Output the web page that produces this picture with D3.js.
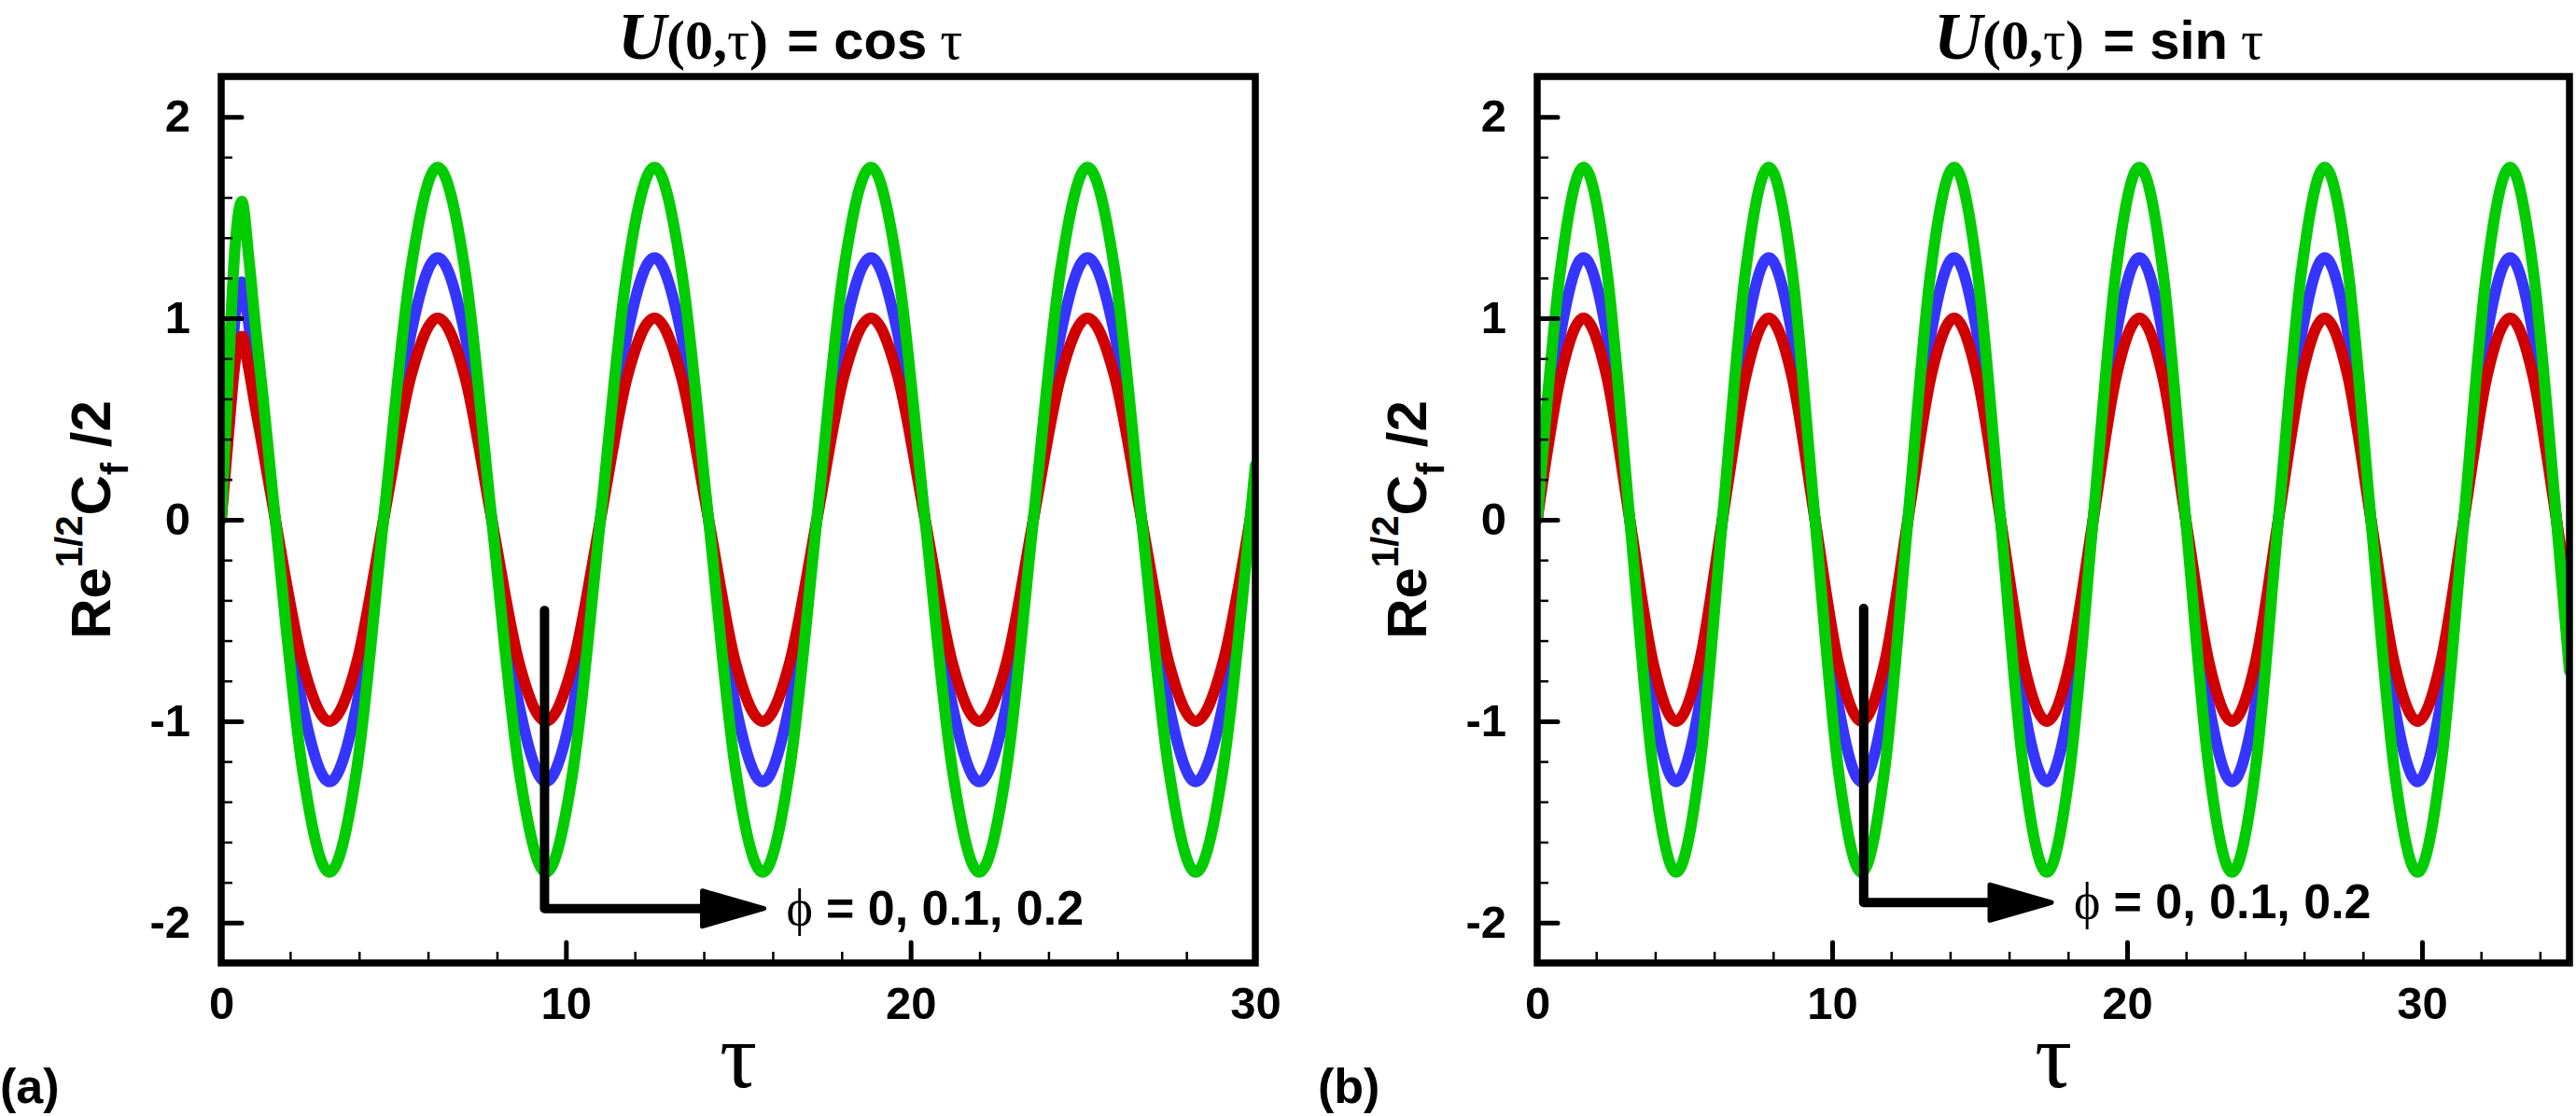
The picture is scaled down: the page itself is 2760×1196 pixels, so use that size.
<!DOCTYPE html>
<html><head><meta charset="utf-8">
<script src="https://cdn.jsdelivr.net/npm/d3@7"></script>
<style>html,body{margin:0;padding:0;background:#fff}svg{display:block}</style>
</head><body>
<script>
// ---------------- data ----------------
const tauA = [0,0.2,0.4,0.6,0.8,1.0,1.2,1.57,2.36,3.14,3.93,4.71,5.50,6.28,7.07,7.85,8.64,9.42,10.21,11.00,11.78,12.57,13.35,14.14,14.92,15.71,16.49,17.28,18.06,18.85,19.63,20.42,21.21,21.99,22.78,23.56,24.35,25.13,25.92,26.70,27.49,28.27,29.06,29.85,30];
const redA   = [0,0.40,0.78,0.91,0.75,0.55,0.36,0,-0.71,-1,-0.71,0,0.71,1,0.71,0,-0.71,-1,-0.71,0,0.71,1,0.71,0,-0.71,-1,-0.71,0,0.71,1,0.71,0,-0.71,-1,-0.71,0,0.71,1,0.71,0,-0.71,-1,-0.71,0,0.15];
const blueA  = [0,0.52,1.00,1.18,0.97,0.71,0.47,0,-0.92,-1.3,-0.92,0,0.92,1.3,0.92,0,-0.92,-1.3,-0.92,0,0.92,1.3,0.92,0,-0.92,-1.3,-0.92,0,0.92,1.3,0.92,0,-0.92,-1.3,-0.92,0,0.92,1.3,0.92,0,-0.92,-1.3,-0.92,0,0.20];
const greenA = [0,0.70,1.35,1.58,1.30,0.95,0.63,0,-1.24,-1.75,-1.24,0,1.24,1.75,1.24,0,-1.24,-1.75,-1.24,0,1.24,1.75,1.24,0,-1.24,-1.75,-1.24,0,1.24,1.75,1.24,0,-1.24,-1.75,-1.24,0,1.24,1.75,1.24,0,-1.24,-1.75,-1.24,0,0.27];

const tauB = [0,0.79,1.57,2.36,3.14,3.93,4.71,5.50,6.28,7.07,7.85,8.64,9.42,10.21,11.00,11.78,12.57,13.35,14.14,14.92,15.71,16.49,17.28,18.06,18.85,19.63,20.42,21.21,21.99,22.78,23.56,24.35,25.13,25.92,26.70,27.49,28.27,29.06,29.85,30.63,31.42,32.20,32.99,33.77,34.56,35];
const redB   = [0,0.71,1,0.71,0,-0.71,-1,-0.71,0,0.71,1,0.71,0,-0.71,-1,-0.71,0,0.71,1,0.71,0,-0.71,-1,-0.71,0,0.71,1,0.71,0,-0.71,-1,-0.71,0,0.71,1,0.71,0,-0.71,-1,-0.71,0,0.71,1,0.71,0,-0.43];
const blueB  = [0,0.92,1.3,0.92,0,-0.92,-1.3,-0.92,0,0.92,1.3,0.92,0,-0.92,-1.3,-0.92,0,0.92,1.3,0.92,0,-0.92,-1.3,-0.92,0,0.92,1.3,0.92,0,-0.92,-1.3,-0.92,0,0.92,1.3,0.92,0,-0.92,-1.3,-0.92,0,0.92,1.3,0.92,0,-0.56];
const greenB = [0,1.24,1.75,1.24,0,-1.24,-1.75,-1.24,0,1.24,1.75,1.24,0,-1.24,-1.75,-1.24,0,1.24,1.75,1.24,0,-1.24,-1.75,-1.24,0,1.24,1.75,1.24,0,-1.24,-1.75,-1.24,0,1.24,1.75,1.24,0,-1.24,-1.75,-1.24,0,1.24,1.75,1.24,0,-0.75];

const yDomain = [-2.2, 2.2];
const xDomainA = [0, 30];
const xDomainB = [0, 35];
const yTicks = [-2, -1, 0, 1, 2];
const yTickLabels = ["-2", "-1", "0", "1", "2"];
const yMinorTicks = [-1.8,-1.6,-1.4,-1.2,-0.8,-0.6,-0.4,-0.2,0.2,0.4,0.6,0.8,1.2,1.4,1.6,1.8];
const xTicks = [0, 10, 20, 30];
const xTickLabels = ["0", "10", "20", "30"];
const xMinorTicksA = [2,4,6,8,12,14,16,18,22,24,26,28];
const xMinorTicksB = [2,4,6,8,12,14,16,18,22,24,26,28,32,34];
const titleFunctions = ["cos", "sin"];
const panelLetters = ["(a)", "(b)"];
const phiText = "= 0, 0.1, 0.2";
// arrow annotation in data units: [x of vertical stem, top y, bottom y, x of tip]
const arrowA = [9.38, -0.45, -1.93, 15.8];
const arrowB = [11.07, -0.44, -1.90, 17.5];

// ---------------- layout / style ----------------
const W = 2760, H = 1196;
const SANS = "'Liberation Sans', Arial, Helvetica, sans-serif";
const SERIF = "'Liberation Serif', 'Times New Roman', 'DejaVu Serif', serif";
const colors = {red: "#d00000", blue: "#3535ff", green: "#00cc00"};

const panels = [
  {left: 237, right: 1345, xDomain: xDomainA, tau: tauA, red: redA, blue: blueA, green: greenA,
   xMinor: xMinorTicksA, fn: titleFunctions[0], letter: panelLetters[0], letterX: 0, arrow: arrowA},
  {left: 1647, right: 2753, xDomain: xDomainB, tau: tauB, red: redB, blue: blueB, green: greenB,
   xMinor: xMinorTicksB, fn: titleFunctions[1], letter: panelLetters[1], letterX: 1412, arrow: arrowB}
];
const frameTop = 82, frameBottom = 1032;

const svg = d3.select("body").append("svg").attr("width", W).attr("height", H)
  .attr("viewBox", `0 0 ${W} ${H}`);

panels.forEach((p, i) => {
  const x = d3.scaleLinear().domain(p.xDomain).range([p.left, p.right]);
  const y = d3.scaleLinear().domain(yDomain).range([frameBottom, frameTop]);
  const g = svg.append("g");

  const clipId = "clip" + i;
  svg.append("clipPath").attr("id", clipId).append("rect")
    .attr("x", p.left).attr("y", frameTop).attr("width", p.right - p.left).attr("height", frameBottom - frameTop);

  // curves
  const line = d3.line().x(d => x(d[0])).y(d => y(d[1])).curve(d3.curveMonotoneX);
  const curves = g.append("g").attr("clip-path", `url(#${clipId})`);
  [["blue", p.blue], ["red", p.red], ["green", p.green]].forEach(([c, vals]) => {
    curves.append("path")
      .datum(p.tau.map((t, k) => [t, vals[k]]))
      .attr("d", line)
      .attr("fill", "none")
      .attr("stroke", colors[c])
      .attr("stroke-width", 12)
      .attr("stroke-linejoin", "round")
      .attr("stroke-linecap", "round");
  });

  // arrow annotation
  const [ax, ayTop, ayBot, axTip] = p.arrow;
  const headLen = 70, headHalf = 19;
  const sx = x(ax), sy0 = y(ayTop), sy1 = y(ayBot), tipX = x(axTip);
  g.append("path")
    .attr("d", `M${sx},${sy0} L${sx},${sy1} L${tipX - headLen + 4},${sy1}`)
    .attr("fill", "none").attr("stroke", "#000").attr("stroke-width", 10)
    .attr("stroke-linejoin", "round").attr("stroke-linecap", "round");
  g.append("path")
    .attr("d", `M${tipX - headLen + 2},${sy1 - headHalf} L${tipX - 2},${sy1} L${tipX - headLen + 2},${sy1 + headHalf} Z`)
    .attr("fill", "#000").attr("stroke", "#000").attr("stroke-width", 5).attr("stroke-linejoin", "round");
  const lab = g.append("text").attr("x", tipX + 22).attr("y", sy1 + 17);
  lab.append("tspan").attr("font-family", SERIF).attr("font-size", 54).text("\u03D5");
  lab.append("tspan").attr("font-family", SANS).attr("font-weight", "bold").attr("font-size", 52)
    .attr("dx", 14).text(phiText);

  // axes: major ticks
  const yAxis = d3.axisLeft(y).tickValues(yTicks).tickFormat((d, k) => yTickLabels[k])
    .tickSize(-22).tickPadding(33);
  const gy = g.append("g").attr("transform", `translate(${p.left},0)`).call(yAxis);
  const yMinor = d3.axisLeft(y).tickValues(yMinorTicks).tickFormat("").tickSize(-12);
  const gym = g.append("g").attr("transform", `translate(${p.left},0)`).call(yMinor);

  const xAxis = d3.axisBottom(x).tickValues(xTicks).tickFormat((d, k) => xTickLabels[k])
    .tickSize(-22).tickPadding(25);
  const gx = g.append("g").attr("transform", `translate(0,${frameBottom})`).call(xAxis);
  const xMinor = d3.axisBottom(x).tickValues(p.xMinor).tickFormat("").tickSize(-12);
  const gxm = g.append("g").attr("transform", `translate(0,${frameBottom})`).call(xMinor);

  [gy, gym, gx, gxm].forEach(a => a.select(".domain").remove());
  [gy, gx].forEach(a => {
    a.selectAll(".tick line").attr("stroke", "#000").attr("stroke-width", 5).attr("stroke-linecap", "round");
    a.selectAll(".tick text").attr("font-family", SANS).attr("font-weight", "bold")
      .attr("font-size", 49).attr("fill", "#000");
  });
  [gym, gxm].forEach(a => a.selectAll(".tick line").attr("stroke", "#000").attr("stroke-width", 2.5));

  // frame
  g.append("rect").attr("x", p.left).attr("y", frameTop)
    .attr("width", p.right - p.left).attr("height", frameBottom - frameTop)
    .attr("fill", "none").attr("stroke", "#000").attr("stroke-width", 7.5);

  // title
  const t = g.append("text").attr("x", p.left + 425).attr("y", 63).attr("fill", "#000");
  t.append("tspan").attr("font-family", SERIF).attr("font-style", "italic").attr("font-weight", "bold")
    .attr("font-size", 72).text("U");
  t.append("tspan").attr("font-family", SERIF).attr("font-weight", "bold").attr("font-size", 60).text("(0,");
  t.append("tspan").attr("font-family", SERIF).attr("font-size", 60).text("\u03C4");
  t.append("tspan").attr("font-family", SERIF).attr("font-weight", "bold").attr("font-size", 60).text(")");
  t.append("tspan").attr("font-family", SANS).attr("font-weight", "bold").attr("font-size", 58)
    .attr("dx", 4).text(" = " + p.fn);
  t.append("tspan").attr("font-family", SERIF).attr("font-size", 60).attr("dx", 14).text("\u03C4");

  // x axis title
  g.append("text").attr("x", (p.left + p.right) / 2).attr("y", 1165).attr("text-anchor", "middle")
    .attr("font-family", SERIF).attr("font-size", 100).attr("fill", "#000").text("\u03C4");

  // y axis title
  const yl = g.append("text")
    .attr("transform", `translate(${p.left - 119},${(frameTop + frameBottom) / 2}) rotate(-90)`)
    .attr("text-anchor", "middle").attr("font-family", SANS).attr("font-weight", "bold").attr("fill", "#000");
  yl.append("tspan").attr("font-size", 60).text("Re");
  yl.append("tspan").attr("font-size", 40).attr("dy", -30).text("1/2");
  yl.append("tspan").attr("font-size", 60).attr("dy", 30).text("C");
  yl.append("tspan").attr("font-size", 40).attr("dy", 19).text("f");
  yl.append("tspan").attr("font-size", 60).attr("dy", -19).text(" /2");

  // panel letter
  g.append("text").attr("x", p.letterX).attr("y", 1182).attr("font-family", SANS)
    .attr("font-weight", "bold").attr("font-size", 52).attr("fill", "#000").text(p.letter);
});
</script>
</body></html>
